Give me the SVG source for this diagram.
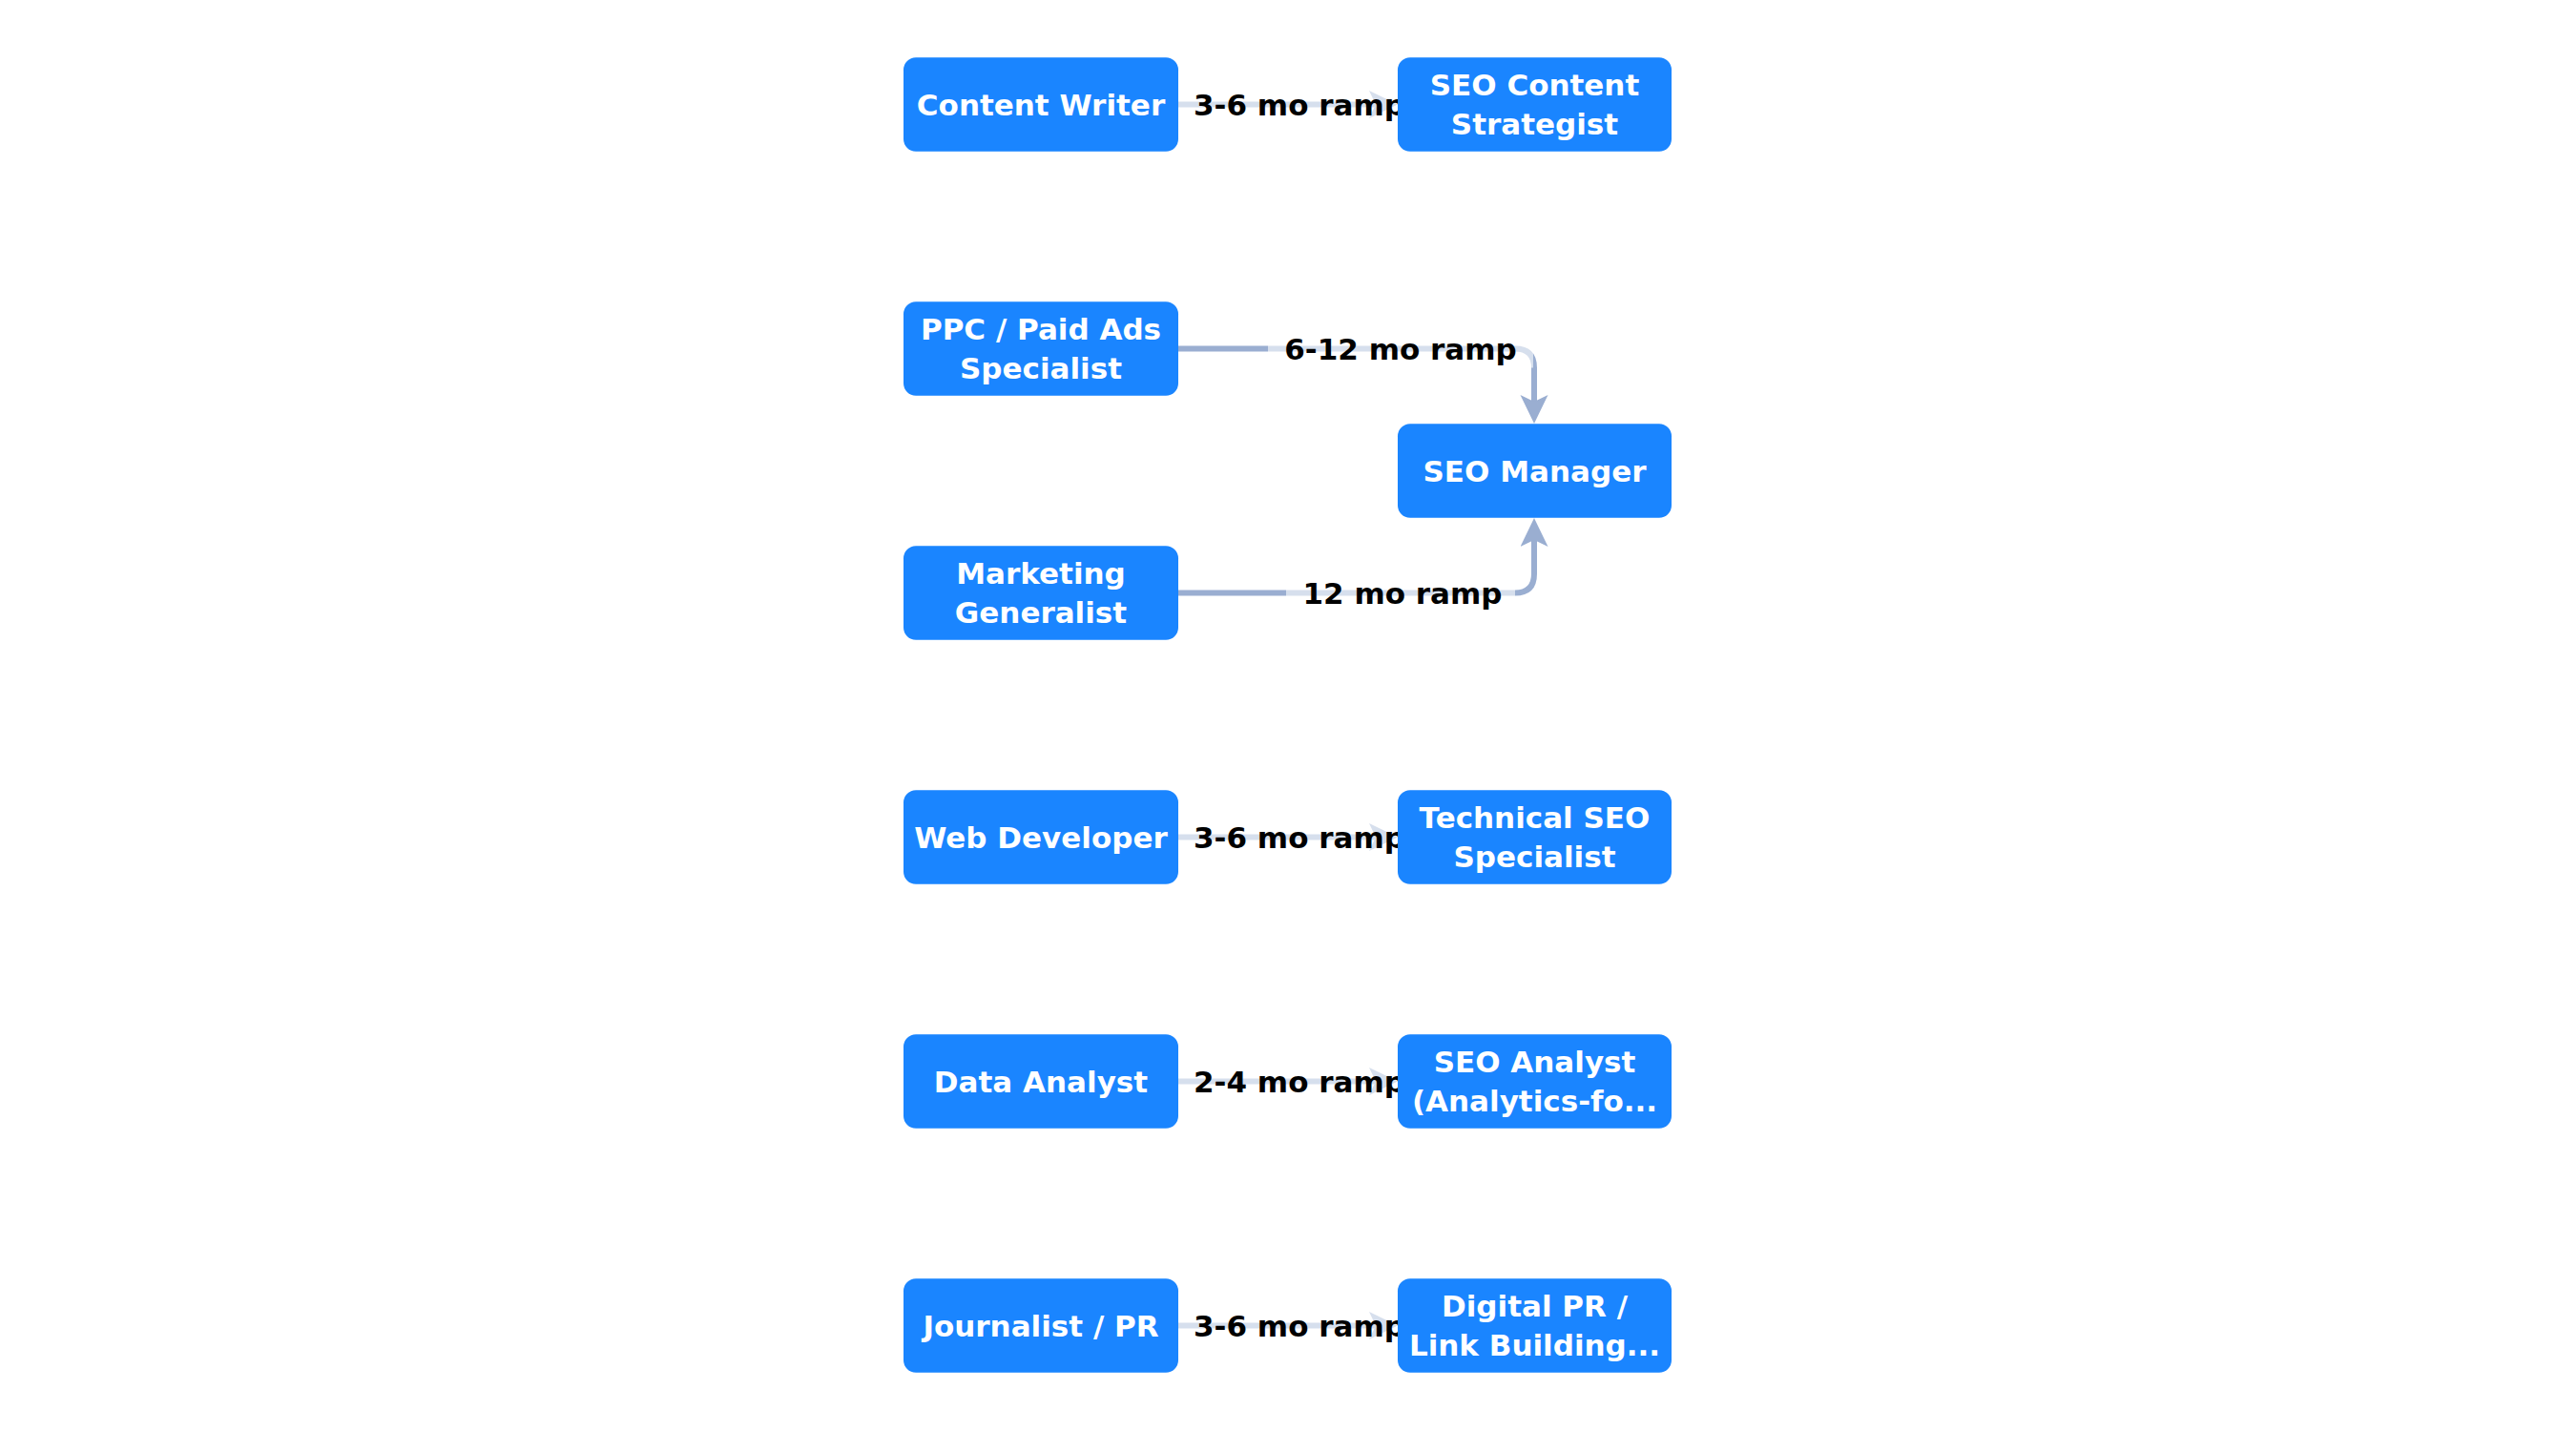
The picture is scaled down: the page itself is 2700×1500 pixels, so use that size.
<svg xmlns="http://www.w3.org/2000/svg" width="2700" height="1500" viewBox="0 0 2700 1500">
<style>
.node rect{fill:#1a85ff;}
.node text{fill:#ffffff;font-family:"DejaVu Sans","Liberation Sans",sans-serif;font-weight:bold;font-size:31px;text-anchor:middle;}
.edge{fill:none;stroke:#9aaed1;stroke-width:6;}
.lbg{fill:#ffffff;fill-opacity:0.6;}
.ltx{fill:#000000;font-family:"DejaVu Sans","Liberation Sans",sans-serif;font-weight:bold;font-size:31px;text-anchor:middle;}
</style>
<defs>
<marker id="arr" markerUnits="userSpaceOnUse" markerWidth="31" markerHeight="30" refX="7" refY="14.5" orient="auto" viewBox="0 0 31 30">
<path d="M0,0 L30,14.5 L0,29 L7,14.5 Z" fill="#9aaed1"/>
</marker>
</defs>
<rect width="2700" height="1500" fill="#ffffff"/>
<g id="connectors">
<path class="edge" d="M1235,109.5 H1442" marker-end="url(#arr)"/>
<path class="edge" d="M1235,365.5 H1588 Q1608,365.5 1608,385.5 V421" marker-end="url(#arr)"/>
<path class="edge" d="M1235,621.5 H1588 Q1608,621.5 1608,601.5 V566" marker-end="url(#arr)"/>
<path class="edge" d="M1235,877.5 H1442" marker-end="url(#arr)"/>
<path class="edge" d="M1235,1133.5 H1442" marker-end="url(#arr)"/>
<path class="edge" d="M1235,1389.5 H1442" marker-end="url(#arr)"/>
</g>
<g id="edge-labels">
<rect class="lbg" x="1234" y="89.5" width="256" height="40"/>
<text class="ltx" x="1362" y="120.8">3-6 mo ramp</text>
<rect class="lbg" x="1329" y="345.5" width="278" height="40"/>
<text class="ltx" x="1468" y="376.8">6-12 mo ramp</text>
<rect class="lbg" x="1348" y="601.5" width="240" height="40"/>
<text class="ltx" x="1470" y="632.8">12 mo ramp</text>
<rect class="lbg" x="1234" y="857.5" width="256" height="40"/>
<text class="ltx" x="1362" y="888.8">3-6 mo ramp</text>
<rect class="lbg" x="1234" y="1113.5" width="256" height="40"/>
<text class="ltx" x="1362" y="1144.8">2-4 mo ramp</text>
<rect class="lbg" x="1234" y="1369.5" width="256" height="40"/>
<text class="ltx" x="1362" y="1400.8">3-6 mo ramp</text>
</g>
<g id="node-content-writer" class="node">
<rect x="947" y="60.25" width="288" height="98.5" rx="13"/>
<text x="1091" y="120.8">Content Writer</text>
</g>
<g id="node-seo-content-strategist" class="node">
<rect x="1465" y="60.25" width="287" height="98.5" rx="13"/>
<text x="1608.5" y="100.3">SEO Content</text>
<text x="1608.5" y="141.3">Strategist</text>
</g>
<g id="node-ppc" class="node">
<rect x="947" y="316.25" width="288" height="98.5" rx="13"/>
<text x="1091" y="356.3">PPC / Paid Ads</text>
<text x="1091" y="397.3">Specialist</text>
</g>
<g id="node-seo-manager" class="node">
<rect x="1465" y="444.25" width="287" height="98.5" rx="13"/>
<text x="1608.5" y="504.8">SEO Manager</text>
</g>
<g id="node-marketing-generalist" class="node">
<rect x="947" y="572.25" width="288" height="98.5" rx="13"/>
<text x="1091" y="612.3">Marketing</text>
<text x="1091" y="653.3">Generalist</text>
</g>
<g id="node-web-developer" class="node">
<rect x="947" y="828.25" width="288" height="98.5" rx="13"/>
<text x="1091" y="888.8">Web Developer</text>
</g>
<g id="node-technical-seo" class="node">
<rect x="1465" y="828.25" width="287" height="98.5" rx="13"/>
<text x="1608.5" y="868.3">Technical SEO</text>
<text x="1608.5" y="909.3">Specialist</text>
</g>
<g id="node-data-analyst" class="node">
<rect x="947" y="1084.25" width="288" height="98.5" rx="13"/>
<text x="1091" y="1144.8">Data Analyst</text>
</g>
<g id="node-seo-analyst" class="node">
<rect x="1465" y="1084.25" width="287" height="98.5" rx="13"/>
<text x="1608.5" y="1124.3">SEO Analyst</text>
<text x="1608.5" y="1165.3">(Analytics-fo...</text>
</g>
<g id="node-journalist" class="node">
<rect x="947" y="1340.25" width="288" height="98.5" rx="13"/>
<text x="1091" y="1400.8">Journalist / PR</text>
</g>
<g id="node-digital-pr" class="node">
<rect x="1465" y="1340.25" width="287" height="98.5" rx="13"/>
<text x="1608.5" y="1380.3">Digital PR /</text>
<text x="1608.5" y="1421.3">Link Building...</text>
</g>
</svg>
